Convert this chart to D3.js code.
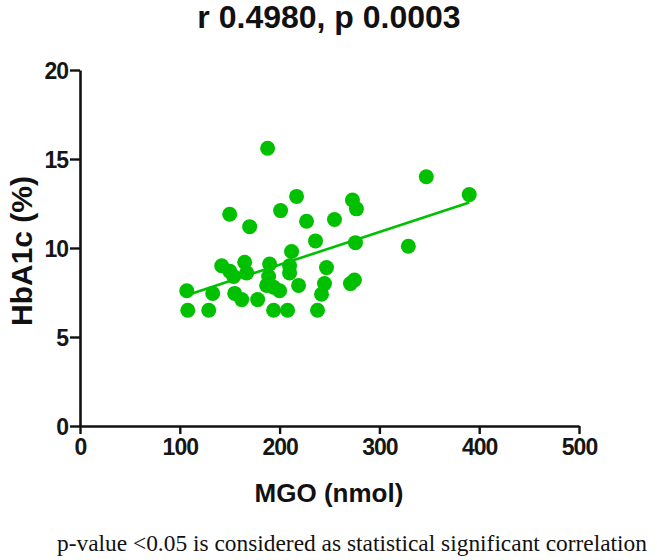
<!DOCTYPE html>
<html>
<head>
<meta charset="utf-8">
<script src="https://cdn.jsdelivr.net/npm/d3@7"></script>
<style>
  html, body { margin: 0; padding: 0; background: #fff; }
  svg { display: block; }
</style>
</head>
<body>
<svg id="chart" width="657" height="560"></svg>
<script>
// ---- data ----
const mgo = [188, 217, 150, 201, 170, 347, 390, 273, 277, 227, 255, 236, 276, 329, 212,
             142, 165, 190, 210, 247, 150, 154, 167, 189, 187, 194, 200, 219, 245, 271,
             107, 133, 155, 162, 178, 242, 108, 129, 194, 208, 238, 210, 275];
const hba1c = [15.6, 12.9, 11.9, 12.1, 11.2, 14.0, 13.0, 12.7, 12.2, 11.5, 11.6, 10.4, 10.3, 10.1, 9.8,
               9.0, 9.2, 9.1, 9.0, 8.9, 8.7, 8.4, 8.6, 8.4, 7.9, 7.8, 7.6, 7.9, 8.0, 8.0,
               7.6, 7.45, 7.45, 7.1, 7.1, 7.4, 6.5, 6.5, 6.5, 6.5, 6.5, 8.6, 8.2];
const fitX = [107, 390];
const fitY = [7.35, 12.55];
const xTicks = [0, 100, 200, 300, 400, 500];
const yTicks = [0, 5, 10, 15, 20];
const titleText = "r 0.4980, p 0.0003";
const xTitle = "MGO (nmol)";
const yTitle = "HbA1c (%)";
const footText = "p-value <0.05 is considered as statistical significant correlation";

// ---- drawing ----
const svg = d3.select("#chart");
const green = "#00c000";
const x = d3.scaleLinear().domain([0, 500]).range([80, 579]);
const y = d3.scaleLinear().domain([0, 20]).range([426, 70]);

const axisFont = "'Liberation Sans', Arial, Helvetica, sans-serif";

// x axis
const gx = svg.append("g").attr("transform", "translate(0,426)")
  .call(d3.axisBottom(x).tickValues(xTicks).tickSize(8).tickSizeOuter(0).tickPadding(5));
// y axis
const gy = svg.append("g").attr("transform", "translate(80,0)")
  .call(d3.axisLeft(y).tickValues(yTicks).tickSize(10).tickSizeOuter(0).tickPadding(2));

[gx, gy].forEach(g => {
  g.select(".domain").attr("stroke", "#111").attr("stroke-width", 2.6);
  g.selectAll(".tick line").attr("stroke", "#111").attr("stroke-width", 2.4);
  g.selectAll(".tick text").attr("fill", "#161616")
    .style("font-family", axisFont).style("font-size", "23px").style("font-weight", "bold")
    .style("letter-spacing", "-1px");
});
gy.selectAll(".tick text").attr("dy", "0.36em");

// points
svg.append("g").selectAll("circle")
  .data(mgo.map((v, i) => [v, hba1c[i]]))
  .join("circle")
  .attr("cx", d => x(d[0]))
  .attr("cy", d => y(d[1]))
  .attr("r", 7.5)
  .attr("fill", green);

// fit line
svg.append("path")
  .datum(fitX.map((v, i) => [v, fitY[i]]))
  .attr("d", d3.line().x(d => x(d[0])).y(d => y(d[1])))
  .attr("stroke", green).attr("stroke-width", 2.6).attr("fill", "none");

// title
svg.append("text").attr("x", 329).attr("y", 28).attr("text-anchor", "middle")
  .style("font-family", axisFont).style("font-weight", "bold").style("font-size", "32px")
  .attr("fill", "#111").text(titleText);

// x title
svg.append("text").attr("x", 329).attr("y", 502).attr("text-anchor", "middle")
  .style("font-family", axisFont).style("font-weight", "bold").style("font-size", "26px")
  .attr("fill", "#111").text(xTitle);

// y title
svg.append("text").attr("transform", "translate(32,251) rotate(-90)").attr("text-anchor", "middle")
  .style("font-family", axisFont).style("font-weight", "bold").style("font-size", "30px")
  .attr("fill", "#111").text(yTitle);

// footnote
svg.append("text").attr("x", 57).attr("y", 551)
  .style("font-family", "'Liberation Serif', 'Times New Roman', serif").style("font-size", "23.4px")
  .attr("fill", "#111").text(footText);
</script>
</body>
</html>
